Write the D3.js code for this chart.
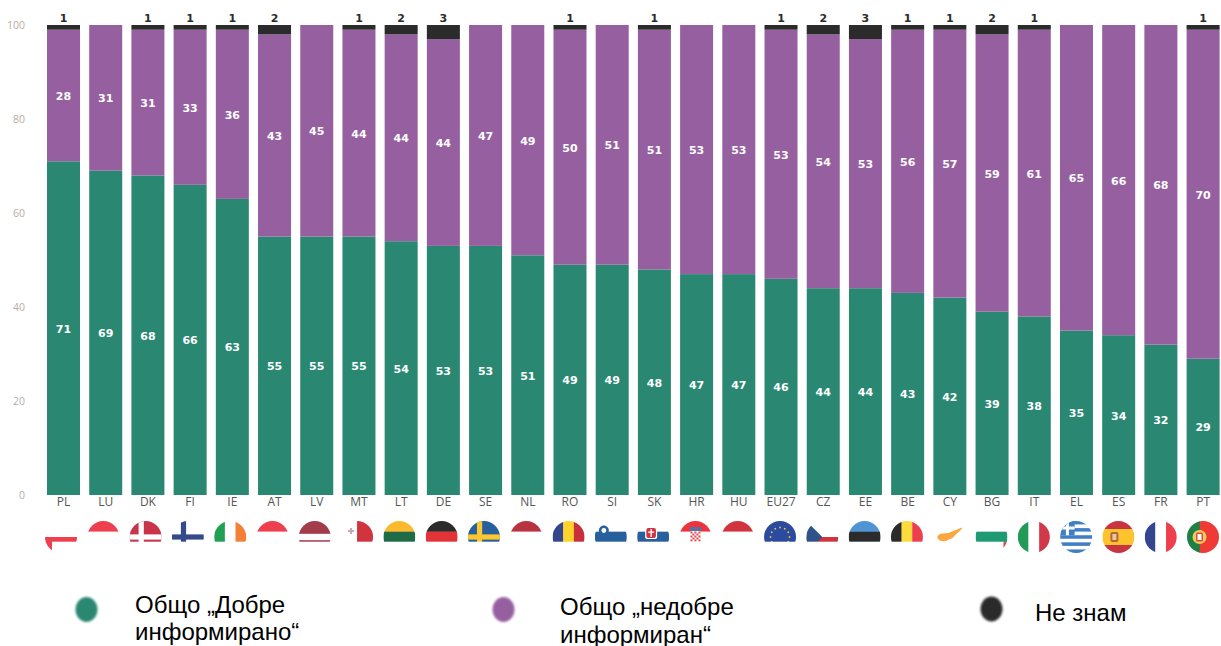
<!DOCTYPE html>
<html lang="bg">
<head>
<meta charset="utf-8">
<title>Информираност по държави</title>
<script src="https://cdn.jsdelivr.net/npm/d3@7"></script>
<style>
  html, body { margin: 0; padding: 0; background: #fff; }
  svg { display: block; }
</style>
</head>
<body>
<svg id="chart" width="1221" height="646"></svg>
<script>
// Survey shares per country, in percent
const countries = ["PL","LU","DK","FI","IE","AT","LV","MT","LT","DE","SE","NL","RO","SI","SK","HR","HU","EU27","CZ","EE","BE","CY","BG","IT","EL","ES","FR","PT"];
const wellInformed = [71,69,68,66,63,55,55,55,54,53,53,51,49,49,48,47,47,46,44,44,43,42,39,38,35,34,32,29];
const notInformed = [28,31,31,33,36,43,45,44,44,44,47,49,50,51,51,53,53,53,54,53,56,57,59,61,65,66,68,70];
const dontKnow = [1,0,1,1,1,2,0,1,2,3,0,0,1,0,1,0,0,1,2,3,1,1,2,1,0,0,0,1];
const yTicks = [0,20,40,60,80,100];

const seriesNames = ["wellInformed","notInformed","dontKnow"];
const seriesColors = ["#2a8872","#9660a0","#2b2b2b"];
const legendLines = [["Общо „Добре","информирано“"],["Общо „недобре","информиран“"],["Не знам"]];

// Flag stripes: direction, colours from top/left, optional relative widths
const flagStripes = {
  PL:["h",["#ffffff","#ee3f4e"]],
  LU:["h",["#ee3f4e","#ffffff","#4aa3dc"]],
  DK:["h",["#c8344a"]],
  FI:["h",["#ffffff"]],
  IE:["v",["#1fa055","#ffffff","#f47f36"]],
  AT:["h",["#ee3f4e","#ffffff","#ee3f4e"]],
  LV:["h",["#a23c4a","#ffffff","#a23c4a"],[2,1,2]],
  MT:["v",["#ffffff","#d1333f"]],
  LT:["h",["#fdb92e","#1f6b45","#d1333f"]],
  DE:["h",["#2b2b2b","#e23338","#fdc82f"]],
  SE:["h",["#28609e"]],
  NL:["h",["#b8323f","#ffffff","#2a5a9c"]],
  RO:["v",["#34468a","#fdd32c","#c9303d"]],
  SI:["h",["#ffffff","#28609e","#d1333f"]],
  SK:["h",["#ffffff","#28609e","#d1333f"]],
  HR:["h",["#f0323c","#ffffff","#28509e"]],
  HU:["h",["#d1333f","#ffffff","#2f8a50"]],
  EU27:["h",["#2c4a9e"]],
  CZ:["h",["#ffffff","#d1333f"]],
  EE:["h",["#4f94d4","#2b2b2b","#ffffff"]],
  BE:["v",["#2b2b2b","#fbdc3c","#ee3f4e"]],
  CY:["h",["#ffffff"]],
  BG:["h",["#ffffff","#1f9a72","#e2403c"]],
  IT:["v",["#249a58","#ffffff","#d1394a"]],
  EL:["h",["#3f80c4","#ffffff","#3f80c4","#ffffff","#3f80c4","#ffffff","#3f80c4","#ffffff","#3f80c4"]],
  ES:["h",["#c8343f","#fdc32c","#c8343f"],[1,2,1]],
  FR:["v",["#34468f","#ffffff","#ee3f4e"]],
  PT:["v",["#1f7f45","#ef3a36"],[2,3]]
};

const svg = d3.select("#chart");
const plotBottom = 495, plotTop = 25, flagY = 537, flagR = 16;

const x = d3.scaleBand().domain(countries).range([47,1219.6]).paddingInner(0.218);
const y = d3.scaleLinear().domain([0,100]).range([plotBottom,plotTop]);
const flagX = d3.scalePoint().domain(countries).range([61,1203]);

const rows = countries.map((c,i) => ({country:c, wellInformed:wellInformed[i], notInformed:notInformed[i], dontKnow:dontKnow[i]}));
const stacked = d3.stack().keys(seriesNames)(rows);

// Stacked bars
svg.append("g").selectAll("g").data(stacked).join("g")
  .attr("fill",(d,i)=>seriesColors[i])
  .selectAll("rect").data(d=>d).join("rect")
  .attr("x",d=>x(d.data.country))
  .attr("width",x.bandwidth())
  .attr("y",d=>y(d[1]))
  .attr("height",d=>y(d[0])-y(d[1]));

// Value labels: white inside the two main segments, dark above the bar for "don't know"
const labelFont = "'DejaVu Sans', sans-serif";
stacked.slice(0,2).forEach(layer => {
  svg.append("g").selectAll("text").data(layer).join("text")
    .attr("x",d=>x(d.data.country)+x.bandwidth()/2)
    .attr("y",d=>y((d[0]+d[1])/2)+4.5)
    .attr("text-anchor","middle")
    .attr("font-family",labelFont).attr("font-size",11).attr("font-weight",700)
    .attr("fill","#fff")
    .text(d=>d[1]-d[0]);
});
svg.append("g").selectAll("text").data(rows.filter(r=>r.dontKnow>0)).join("text")
  .attr("x",d=>x(d.country)+x.bandwidth()/2)
  .attr("y",plotTop-3)
  .attr("text-anchor","middle")
  .attr("font-family",labelFont).attr("font-size",11).attr("font-weight",700)
  .attr("fill","#2b2b2b")
  .text(d=>d.dontKnow);

// Axes
const yAxis = svg.append("g").attr("transform","translate(25,0)")
  .call(d3.axisLeft(y).tickValues(yTicks).tickSize(0).tickPadding(0));
yAxis.select(".domain").remove();
yAxis.selectAll("text").attr("font-family","'Open Sans', sans-serif").attr("font-size",10.5).attr("fill","#b9aca6");

const xAxis = svg.append("g").attr("transform",`translate(0,${plotBottom})`)
  .call(d3.axisBottom(x).tickSize(0).tickPadding(2));
xAxis.select(".domain").remove();
xAxis.selectAll("text").attr("font-family","'Open Sans', sans-serif").attr("font-size",12).attr("fill","#555");

// Flags: striped circles with emblems on top
const defs = svg.append("defs");
defs.append("clipPath").attr("id","flag-clip").append("circle").attr("r",flagR);

function drawStripes(g, code) {
  const [dir, colors, weights] = flagStripes[code];
  const w = weights || colors.map(()=>1);
  const scale = d3.scaleLinear().domain([0,d3.sum(w)]).range([-flagR,flagR]);
  let acc = 0;
  colors.forEach((c,i)=>{
    const a = scale(acc), b = scale(acc+w[i]);
    acc += w[i];
    const r = g.append("rect").attr("fill",c);
    if (dir==="h") r.attr("x",-flagR).attr("width",2*flagR).attr("y",a).attr("height",b-a+0.2);
    else r.attr("y",-flagR).attr("height",2*flagR).attr("x",a).attr("width",b-a+0.2);
  });
}
function nordicCross(g, band) {
  g.append("rect").attr("x",-flagR).attr("y",-2.6).attr("width",2*flagR).attr("height",5.2).attr("fill",band);
  g.append("rect").attr("x",-7).attr("y",-flagR).attr("width",5.2).attr("height",2*flagR).attr("fill",band);
}
const emblems = {
  DK: g => nordicCross(g,"#ffffff"),
  FI: g => nordicCross(g,"#354a8c"),
  SE: g => nordicCross(g,"#fdc82f"),
  MT: g => {
    g.append("rect").attr("x",-9).attr("y",-7).attr("width",6).attr("height",2).attr("fill","#c9a7ab");
    g.append("rect").attr("x",-7).attr("y",-9).attr("width",2).attr("height",6).attr("fill","#c9a7ab");
  },
  SI: g => {
    g.append("circle").attr("cx",-7).attr("cy",-6.5).attr("r",5).attr("fill","#28609e");
    g.append("circle").attr("cx",-7).attr("cy",-6.5).attr("r",2.4).attr("fill","#fff");
  },
  SK: g => {
    g.append("rect").attr("x",-8).attr("y",-10).attr("width",12).attr("height",12).attr("rx",2).attr("fill","#fff");
    g.append("rect").attr("x",-6.8).attr("y",-9).attr("width",9.6).attr("height",10).attr("rx",2).attr("fill","#d1333f");
    g.append("rect").attr("x",-2.7).attr("y",-8).attr("width",1.4).attr("height",8).attr("fill","#fff");
    g.append("rect").attr("x",-5).attr("y",-5.5).attr("width",6).attr("height",1.3).attr("fill","#fff");
  },
  HR: g => {
    g.append("rect").attr("x",-6).attr("y",-10).attr("width",12).attr("height",4).attr("fill","#5a6f9c");
    const cells = d3.range(5).flatMap(r=>d3.range(5).map(c=>[r,c]));
    g.append("rect").attr("x",-5).attr("y",-6).attr("width",10).attr("height",12).attr("fill","#fff");
    g.selectAll(".chk").data(cells.filter(([r,c])=>(r+c)%2===0)).join("rect")
      .attr("x",d=>-5+d[1]*2).attr("y",d=>-5.5+d[0]*2).attr("width",2).attr("height",2).attr("fill","#e8454f");
  },
  EU27: g => {
    g.selectAll(".star").data(d3.range(12)).join("circle")
      .attr("cx",d=>9.5*Math.cos(d*Math.PI/6)).attr("cy",d=>9.5*Math.sin(d*Math.PI/6))
      .attr("r",0.9).attr("fill","#d8c84a");
  },
  CZ: g => g.append("path").attr("d","M-16,-16 L0,0 L-16,16 Z").attr("fill","#2f5288"),
  CY: g => {
    g.append("path").attr("d","M-12,0 C-10,-5 -5,-3 -1,-4 C4,-6 9,-8 14,-10 C11,-6 8,-4 6,-2 C4,2 -1,2 -3,4 C-7,5 -11,4 -12,0 Z").attr("fill","#f9a73e");
  },
  EL: g => {
    g.append("rect").attr("x",-flagR).attr("y",-flagR).attr("width",14.5).attr("height",14.2).attr("fill","#3f80c4");
    g.append("rect").attr("x",-flagR).attr("y",-10.5).attr("width",14.5).attr("height",3).attr("fill","#fff");
    g.append("rect").attr("x",-10.2).attr("y",-flagR).attr("width",3).attr("height",14.2).attr("fill","#fff");
  },
  ES: g => {
    g.append("rect").attr("x",-8).attr("y",-5).attr("width",8).attr("height",10).attr("rx",2).attr("fill","#b5653a");
    g.append("rect").attr("x",-6).attr("y",-3).attr("width",4).attr("height",6).attr("fill","#e8c9a0");
  },
  PT: g => {
    g.append("circle").attr("cx",-3.5).attr("r",7).attr("fill","#e5d05a");
    g.append("rect").attr("x",-7).attr("y",-4.5).attr("width",7).attr("height",9).attr("rx",1.5).attr("fill","#e9453f");
    g.append("rect").attr("x",-5.5).attr("y",-3).attr("width",4).attr("height",6).attr("fill","#fff");
  }
};

const flags = svg.append("g").selectAll("g").data(countries).join("g")
  .attr("transform",d=>`translate(${flagX(d)},${flagY})`)
  .attr("clip-path","url(#flag-clip)");
flags.each(function(code){
  const g = d3.select(this);
  drawStripes(g, code);
  if (emblems[code]) emblems[code](g);
});

// White band hiding the lower part of the flag row
svg.append("rect").attr("x",52).attr("y",541.7).attr("width",951.5).attr("height",16).attr("fill","#fff");

// Legend
const legendDots = [[86.5,609.5],[503.5,609.5],[991.5,609]];
const legendText = [[135,613,26.5],[560,615,27.5],[1035,621,0]];
defs.append("filter").attr("id","soft").attr("x","-30%").attr("y","-30%").attr("width","160%").attr("height","160%")
  .append("feGaussianBlur").attr("stdDeviation",1.3);
const legend = svg.append("g");
legend.selectAll("ellipse").data(legendDots).join("ellipse")
  .attr("cx",d=>d[0]).attr("cy",d=>d[1]).attr("rx",11).attr("ry",12.5)
  .attr("fill",(d,i)=>seriesColors[i]).attr("filter","url(#soft)");
legendLines.forEach((lines,i)=>{
  const t = legend.append("text").attr("font-family","'Liberation Sans', Arial, sans-serif").attr("font-size",24).attr("fill","#000");
  lines.forEach((line,k)=>{
    t.append("tspan").attr("x",legendText[i][0]).attr("y",legendText[i][1]+k*legendText[i][2]).text(line);
  });
});
</script>
</body>
</html>
